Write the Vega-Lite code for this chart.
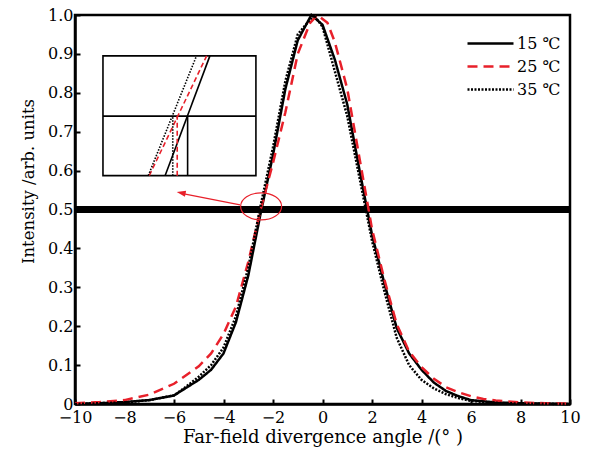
{
  "$schema": "https://vega.github.io/schema/vega-lite/v6.json",
  "width": 495,
  "height": 389,
  "autosize": "none",
  "padding": {"left": 75, "top": 15, "right": 24, "bottom": 52},
  "config": {
    "view": {"stroke": "black", "strokeWidth": 2.5},
    "font": "DejaVu Serif",
    "axis": {
      "grid": false,
      "domainColor": "black",
      "domainWidth": 2.5,
      "tickColor": "black",
      "tickWidth": 2,
      "tickSize": -5,
      "labelColor": "black",
      "labelFontSize": 16,
      "labelOverlap": false,
      "labelFlush": false,
      "titleColor": "black",
      "titleFontSize": 16.5,
      "titleFontWeight": "normal"
    },
    "axisX": {"labelPadding": 10},
    "axisY": {"labelPadding": 7}
  },
  "datasets": {
    "curves": [
      {"angle": -10, "intensity": 0.0, "series": "15 ℃"},
      {"angle": -9, "intensity": 0.002, "series": "15 ℃"},
      {"angle": -8, "intensity": 0.005, "series": "15 ℃"},
      {"angle": -7, "intensity": 0.01, "series": "15 ℃"},
      {"angle": -6, "intensity": 0.022, "series": "15 ℃"},
      {"angle": -5.5, "intensity": 0.042, "series": "15 ℃"},
      {"angle": -5, "intensity": 0.062, "series": "15 ℃"},
      {"angle": -4.5, "intensity": 0.088, "series": "15 ℃"},
      {"angle": -4, "intensity": 0.13, "series": "15 ℃"},
      {"angle": -3.5, "intensity": 0.21, "series": "15 ℃"},
      {"angle": -3, "intensity": 0.33, "series": "15 ℃"},
      {"angle": -2.5, "intensity": 0.49, "series": "15 ℃"},
      {"angle": -2, "intensity": 0.64, "series": "15 ℃"},
      {"angle": -1.5, "intensity": 0.81, "series": "15 ℃"},
      {"angle": -1, "intensity": 0.935, "series": "15 ℃"},
      {"angle": -0.45, "intensity": 1.0, "series": "15 ℃"},
      {"angle": 0, "intensity": 0.975, "series": "15 ℃"},
      {"angle": 0.5, "intensity": 0.885, "series": "15 ℃"},
      {"angle": 1, "intensity": 0.77, "series": "15 ℃"},
      {"angle": 1.5, "intensity": 0.6, "series": "15 ℃"},
      {"angle": 2, "intensity": 0.435, "series": "15 ℃"},
      {"angle": 2.5, "intensity": 0.31, "series": "15 ℃"},
      {"angle": 3, "intensity": 0.195, "series": "15 ℃"},
      {"angle": 3.5, "intensity": 0.13, "series": "15 ℃"},
      {"angle": 4, "intensity": 0.088, "series": "15 ℃"},
      {"angle": 4.5, "intensity": 0.055, "series": "15 ℃"},
      {"angle": 5, "intensity": 0.033, "series": "15 ℃"},
      {"angle": 5.5, "intensity": 0.02, "series": "15 ℃"},
      {"angle": 6, "intensity": 0.01, "series": "15 ℃"},
      {"angle": 7, "intensity": 0.004, "series": "15 ℃"},
      {"angle": 8, "intensity": 0.002, "series": "15 ℃"},
      {"angle": 9, "intensity": 0.001, "series": "15 ℃"},
      {"angle": 10, "intensity": 0.0, "series": "15 ℃"},

      {"angle": -10, "intensity": 0.002, "series": "25 ℃"},
      {"angle": -9, "intensity": 0.005, "series": "25 ℃"},
      {"angle": -8, "intensity": 0.01, "series": "25 ℃"},
      {"angle": -7, "intensity": 0.024, "series": "25 ℃"},
      {"angle": -6, "intensity": 0.052, "series": "25 ℃"},
      {"angle": -5, "intensity": 0.097, "series": "25 ℃"},
      {"angle": -4.5, "intensity": 0.13, "series": "25 ℃"},
      {"angle": -4, "intensity": 0.18, "series": "25 ℃"},
      {"angle": -3.5, "intensity": 0.25, "series": "25 ℃"},
      {"angle": -3, "intensity": 0.365, "series": "25 ℃"},
      {"angle": -2.5, "intensity": 0.5, "series": "25 ℃"},
      {"angle": -2, "intensity": 0.62, "series": "25 ℃"},
      {"angle": -1.5, "intensity": 0.75, "series": "25 ℃"},
      {"angle": -1, "intensity": 0.9, "series": "25 ℃"},
      {"angle": -0.5, "intensity": 0.98, "series": "25 ℃"},
      {"angle": -0.2, "intensity": 1.0, "series": "25 ℃"},
      {"angle": 0.2, "intensity": 0.98, "series": "25 ℃"},
      {"angle": 0.5, "intensity": 0.93, "series": "25 ℃"},
      {"angle": 1, "intensity": 0.81, "series": "25 ℃"},
      {"angle": 1.5, "intensity": 0.63, "series": "25 ℃"},
      {"angle": 2, "intensity": 0.45, "series": "25 ℃"},
      {"angle": 2.5, "intensity": 0.32, "series": "25 ℃"},
      {"angle": 3, "intensity": 0.205, "series": "25 ℃"},
      {"angle": 3.5, "intensity": 0.135, "series": "25 ℃"},
      {"angle": 4, "intensity": 0.095, "series": "25 ℃"},
      {"angle": 4.5, "intensity": 0.065, "series": "25 ℃"},
      {"angle": 5, "intensity": 0.043, "series": "25 ℃"},
      {"angle": 5.5, "intensity": 0.03, "series": "25 ℃"},
      {"angle": 6, "intensity": 0.02, "series": "25 ℃"},
      {"angle": 6.5, "intensity": 0.013, "series": "25 ℃"},
      {"angle": 7, "intensity": 0.009, "series": "25 ℃"},
      {"angle": 8, "intensity": 0.004, "series": "25 ℃"},
      {"angle": 9, "intensity": 0.002, "series": "25 ℃"},
      {"angle": 10, "intensity": 0.001, "series": "25 ℃"},

      {"angle": -10, "intensity": 0.0, "series": "35 ℃"},
      {"angle": -9, "intensity": 0.002, "series": "35 ℃"},
      {"angle": -8, "intensity": 0.004, "series": "35 ℃"},
      {"angle": -7, "intensity": 0.01, "series": "35 ℃"},
      {"angle": -6, "intensity": 0.022, "series": "35 ℃"},
      {"angle": -5.5, "intensity": 0.045, "series": "35 ℃"},
      {"angle": -5, "intensity": 0.07, "series": "35 ℃"},
      {"angle": -4.5, "intensity": 0.1, "series": "35 ℃"},
      {"angle": -4, "intensity": 0.145, "series": "35 ℃"},
      {"angle": -3.5, "intensity": 0.225, "series": "35 ℃"},
      {"angle": -3, "intensity": 0.35, "series": "35 ℃"},
      {"angle": -2.5, "intensity": 0.51, "series": "35 ℃"},
      {"angle": -2, "intensity": 0.66, "series": "35 ℃"},
      {"angle": -1.5, "intensity": 0.83, "series": "35 ℃"},
      {"angle": -1, "intensity": 0.95, "series": "35 ℃"},
      {"angle": -0.35, "intensity": 1.0, "series": "35 ℃"},
      {"angle": 0, "intensity": 0.97, "series": "35 ℃"},
      {"angle": 0.5, "intensity": 0.855, "series": "35 ℃"},
      {"angle": 1, "intensity": 0.74, "series": "35 ℃"},
      {"angle": 1.5, "intensity": 0.58, "series": "35 ℃"},
      {"angle": 2, "intensity": 0.42, "series": "35 ℃"},
      {"angle": 2.5, "intensity": 0.29, "series": "35 ℃"},
      {"angle": 3, "intensity": 0.17, "series": "35 ℃"},
      {"angle": 3.5, "intensity": 0.1, "series": "35 ℃"},
      {"angle": 4, "intensity": 0.062, "series": "35 ℃"},
      {"angle": 4.5, "intensity": 0.04, "series": "35 ℃"},
      {"angle": 5, "intensity": 0.025, "series": "35 ℃"},
      {"angle": 5.5, "intensity": 0.015, "series": "35 ℃"},
      {"angle": 6, "intensity": 0.008, "series": "35 ℃"},
      {"angle": 7, "intensity": 0.003, "series": "35 ℃"},
      {"angle": 8, "intensity": 0.001, "series": "35 ℃"},
      {"angle": 10, "intensity": 0.0, "series": "35 ℃"}
    ],
    "insetSolid": [
      {"x": -8.87, "y": 0.74, "x2": -2.69, "y2": 0.74},
      {"x": -5.45, "y": 0.587, "x2": -5.45, "y2": 0.74},
      {"x": -6.36, "y": 0.587, "x2": -4.55, "y2": 0.895}
    ],
    "insetDashed": [
      {"x": -7.0, "y": 0.587, "x2": -4.68, "y2": 0.895},
      {"x": -5.87, "y": 0.587, "x2": -5.87, "y2": 0.74}
    ],
    "insetDotted": [
      {"x": -7.04, "y": 0.587, "x2": -5.09, "y2": 0.895},
      {"x": -6.05, "y": 0.587, "x2": -6.05, "y2": 0.74}
    ]
  },
  "layer": [
    {
      "data": {"values": [{"x": -8.87, "x2": -2.69, "y": 0.587, "y2": 0.895}]},
      "mark": {"type": "rect", "fill": null, "stroke": "black", "strokeWidth": 1.6},
      "encoding": {
        "x": {"field": "x", "type": "quantitative", "title": "Far-field divergence angle /(° )", "axis": {"values": [-10, -8, -6, -4, -2, 0, 2, 4, 6, 8, 10], "titleFontSize": 18, "titlePadding": 3}},
        "x2": {"field": "x2"},
        "y": {"field": "y", "type": "quantitative", "title": "Intensity /arb. units", "axis": {"values": [0, 0.1, 0.2, 0.3, 0.4, 0.5, 0.6, 0.7, 0.8, 0.9, 1.0], "labelExpr": "datum.value == 0 ? '0' : format(datum.value, '.1f')", "titleY": 166, "titlePadding": 11}},
        "y2": {"field": "y2"}
      }
    },
    {
      "data": {"name": "insetSolid"},
      "mark": {"type": "rule", "color": "black", "strokeWidth": 1.6},
      "encoding": {
        "x": {"field": "x", "type": "quantitative", "title": "Far-field divergence angle /(° )", "axis": {"values": [-10, -8, -6, -4, -2, 0, 2, 4, 6, 8, 10], "titleFontSize": 18, "titlePadding": 3}},
        "x2": {"field": "x2"},
        "y": {"field": "y", "type": "quantitative", "title": "Intensity /arb. units", "axis": {"values": [0, 0.1, 0.2, 0.3, 0.4, 0.5, 0.6, 0.7, 0.8, 0.9, 1.0], "labelExpr": "datum.value == 0 ? '0' : format(datum.value, '.1f')", "titleY": 166, "titlePadding": 11}},
        "y2": {"field": "y2"}
      }
    },
    {
      "data": {"name": "insetDashed"},
      "mark": {"type": "rule", "color": "#e8202a", "strokeWidth": 1.6, "strokeDash": [5, 3]},
      "encoding": {
        "x": {"field": "x", "type": "quantitative", "title": "Far-field divergence angle /(° )", "axis": {"values": [-10, -8, -6, -4, -2, 0, 2, 4, 6, 8, 10], "titleFontSize": 18, "titlePadding": 3}},
        "x2": {"field": "x2"},
        "y": {"field": "y", "type": "quantitative", "title": "Intensity /arb. units", "axis": {"values": [0, 0.1, 0.2, 0.3, 0.4, 0.5, 0.6, 0.7, 0.8, 0.9, 1.0], "labelExpr": "datum.value == 0 ? '0' : format(datum.value, '.1f')", "titleY": 166, "titlePadding": 11}},
        "y2": {"field": "y2"}
      }
    },
    {
      "data": {"name": "insetDotted"},
      "mark": {"type": "rule", "color": "black", "strokeWidth": 1.6, "strokeDash": [1.5, 1.5]},
      "encoding": {
        "x": {"field": "x", "type": "quantitative", "title": "Far-field divergence angle /(° )", "axis": {"values": [-10, -8, -6, -4, -2, 0, 2, 4, 6, 8, 10], "titleFontSize": 18, "titlePadding": 3}},
        "x2": {"field": "x2"},
        "y": {"field": "y", "type": "quantitative", "title": "Intensity /arb. units", "axis": {"values": [0, 0.1, 0.2, 0.3, 0.4, 0.5, 0.6, 0.7, 0.8, 0.9, 1.0], "labelExpr": "datum.value == 0 ? '0' : format(datum.value, '.1f')", "titleY": 166, "titlePadding": 11}},
        "y2": {"field": "y2"}
      }
    },
    {
      "data": {"values": [{"level": 0.5}]},
      "mark": {"type": "rule", "color": "black", "strokeWidth": 7},
      "encoding": {
        "y": {"field": "level", "type": "quantitative", "title": "Intensity /arb. units", "axis": {"values": [0, 0.1, 0.2, 0.3, 0.4, 0.5, 0.6, 0.7, 0.8, 0.9, 1.0], "labelExpr": "datum.value == 0 ? '0' : format(datum.value, '.1f')", "titleY": 166, "titlePadding": 11}}
      }
    },
    {
      "data": {"name": "curves"},
      "mark": {"type": "line", "strokeWidth": 2.5},
      "encoding": {
        "x": {
          "field": "angle",
          "type": "quantitative",
          "title": "Far-field divergence angle /(° )",
          "scale": {"domain": [-10, 10], "nice": false},
          "axis": {"values": [-10, -8, -6, -4, -2, 0, 2, 4, 6, 8, 10], "titleFontSize": 18, "titlePadding": 3}
        },
        "y": {
          "field": "intensity",
          "type": "quantitative",
          "title": "Intensity /arb. units",
          "scale": {"domain": [0, 1], "nice": false},
          "axis": {"values": [0, 0.1, 0.2, 0.3, 0.4, 0.5, 0.6, 0.7, 0.8, 0.9, 1.0], "labelExpr": "datum.value == 0 ? '0' : format(datum.value, '.1f')", "titleY": 166, "titlePadding": 11}
        },
        "color": {
          "field": "series",
          "type": "nominal",
          "scale": {"domain": ["15 ℃", "25 ℃", "35 ℃"], "range": ["black", "#e8202a", "black"]},
          "legend": {
            "orient": "none",
            "legendX": 391,
            "legendY": 17,
            "title": null,
            "symbolType": "stroke",
            "symbolSize": 2116,
            "symbolStrokeWidth": 2.5,
            "clipHeight": 23,
            "rowPadding": 0,
            "labelFont": "DejaVu Serif",
            "labelFontSize": 16,
            "labelColor": "black",
            "labelOffset": 2
          }
        },
        "strokeDash": {
          "field": "series",
          "type": "nominal",
          "scale": {"domain": ["15 ℃", "25 ℃", "35 ℃"], "range": [[1, 0], [10, 6], [2, 1.5]]}
        }
      }
    },
    {
      "data": {"values": [{"x": -2.48, "y": 0.508}]},
      "mark": {
        "type": "point",
        "shape": "M-1,0A1,0.66,0,1,1,1,0A1,0.66,0,1,1,-1,0Z",
        "size": 1681,
        "filled": false,
        "stroke": "#e8202a",
        "strokeWidth": 1.2,
        "opacity": 1
      },
      "encoding": {
        "x": {"field": "x", "type": "quantitative", "title": "Far-field divergence angle /(° )", "axis": {"values": [-10, -8, -6, -4, -2, 0, 2, 4, 6, 8, 10], "titleFontSize": 18, "titlePadding": 3}},
        "y": {"field": "y", "type": "quantitative", "title": "Intensity /arb. units", "axis": {"values": [0, 0.1, 0.2, 0.3, 0.4, 0.5, 0.6, 0.7, 0.8, 0.9, 1.0], "labelExpr": "datum.value == 0 ? '0' : format(datum.value, '.1f')", "titleY": 166, "titlePadding": 11}}
      }
    },
    {
      "data": {"values": [{"x": -3.33, "y": 0.512, "x2": -5.75, "y2": 0.542}]},
      "mark": {"type": "rule", "color": "#e8202a", "strokeWidth": 1.2},
      "encoding": {
        "x": {"field": "x", "type": "quantitative", "title": "Far-field divergence angle /(° )", "axis": {"values": [-10, -8, -6, -4, -2, 0, 2, 4, 6, 8, 10], "titleFontSize": 18, "titlePadding": 3}},
        "x2": {"field": "x2"},
        "y": {"field": "y", "type": "quantitative", "title": "Intensity /arb. units", "axis": {"values": [0, 0.1, 0.2, 0.3, 0.4, 0.5, 0.6, 0.7, 0.8, 0.9, 1.0], "labelExpr": "datum.value == 0 ? '0' : format(datum.value, '.1f')", "titleY": 166, "titlePadding": 11}},
        "y2": {"field": "y2"}
      }
    },
    {
      "data": {"values": [{"x": -5.89, "y": 0.545}]},
      "mark": {
        "type": "point",
        "shape": "M0,0L3,-1L3,1Z",
        "size": 36,
        "filled": true,
        "color": "#e8202a",
        "opacity": 1,
        "angle": 11.5
      },
      "encoding": {
        "x": {"field": "x", "type": "quantitative", "title": "Far-field divergence angle /(° )", "axis": {"values": [-10, -8, -6, -4, -2, 0, 2, 4, 6, 8, 10], "titleFontSize": 18, "titlePadding": 3}},
        "y": {"field": "y", "type": "quantitative", "title": "Intensity /arb. units", "axis": {"values": [0, 0.1, 0.2, 0.3, 0.4, 0.5, 0.6, 0.7, 0.8, 0.9, 1.0], "labelExpr": "datum.value == 0 ? '0' : format(datum.value, '.1f')", "titleY": 166, "titlePadding": 11}}
      }
    }
  ]
}
